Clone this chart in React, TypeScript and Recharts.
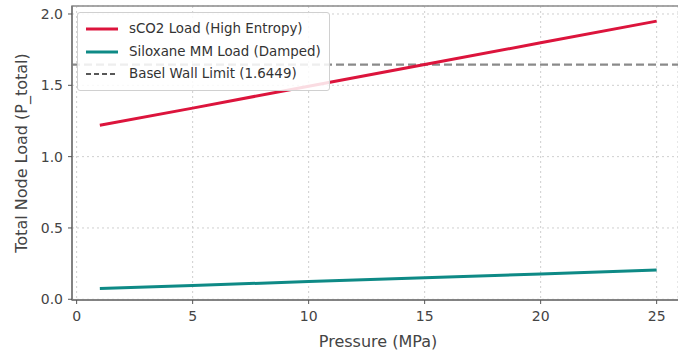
import React from "react";
import {
  LineChart,
  Line,
  XAxis,
  YAxis,
  CartesianGrid,
  ReferenceLine,
  ReferenceArea,
  Label,
} from "recharts";

const pressures = [1, 5, 10, 15, 20, 25];
const sco2Load = [1.22, 1.34, 1.494, 1.646, 1.798, 1.95];
const siloxaneLoad = [0.075, 0.097, 0.124, 0.151, 0.178, 0.205];
const baselLimit = 1.6449;
const xTicks = [0, 5, 10, 15, 20, 25];
const yTicks = [0, 0.5, 1.0, 1.5, 2.0];
const seriesNames = [
  "sCO2 Load (High Entropy)",
  "Siloxane MM Load (Damped)",
  "Basel Wall Limit (1.6449)",
];

const data = pressures.map((p, i) => ({
  p,
  sco2: sco2Load[i],
  silox: siloxaneLoad[i],
}));

const FONT = "'DejaVu Sans', sans-serif";
const RED = "#DC143C";
const TEAL = "#0E8A86";
// visible x-range (the original figure is cropped on the right)
const X_DOMAIN: [number, number] = [-0.2, 25.92];
const X_FRAME_MAX = 26.2;
const Y_DOMAIN: [number, number] = [-0.005, 2.056];

const LegendBox = () => (
  <div
    style={{
      position: "absolute",
      left: 77,
      top: 12,
      boxSizing: "border-box",
      background: "rgba(255,255,255,0.85)",
      border: "1px solid #d0d0d0",
      borderRadius: 3,
      padding: "5px 4px 4px 7px",
      fontFamily: FONT,
      fontSize: 13.4,
      color: "#333",
      lineHeight: "22.5px",
      width: 253,
      whiteSpace: "nowrap",
    }}
  >
    {[
      { c: RED, d: undefined, w: 3, name: seriesNames[0] },
      { c: TEAL, d: undefined, w: 3, name: seriesNames[1] },
      { c: "#222", d: "5 3", w: 1.5, name: seriesNames[2] },
    ].map((it, i) => (
      <div key={i} style={{ display: "flex", alignItems: "center" }}>
        <svg width={34} height={10} style={{ marginRight: 10 }}>
          <line
            x1={1}
            y1={5}
            x2={33}
            y2={5}
            stroke={it.c}
            strokeWidth={it.w}
            strokeDasharray={it.d}
          />
        </svg>
        <span>{it.name}</span>
      </div>
    ))}
  </div>
);

export default function App() {
  return (
    <div
      style={{
        position: "absolute",
        left: 0,
        top: 0,
        width: 678,
        height: 354,
        overflow: "hidden",
        background: "#fff",
      }}
    >
      <LineChart
        width={678}
        height={354}
        data={data}
        margin={{ top: 6, right: 0, left: 0, bottom: 0 }}
        style={{ fontFamily: FONT }}
      >
        <CartesianGrid
          stroke="#cfcfcf"
          strokeDasharray="2 3"
          vertical
          horizontal
        />
        <ReferenceArea
          x1={X_DOMAIN[0]}
          x2={X_FRAME_MAX}
          y1={Y_DOMAIN[0]}
          y2={Y_DOMAIN[1]}
          fill="none"
          fillOpacity={0}
          stroke="#8c8c8c"
          strokeWidth={1.5}
          ifOverflow="visible"
        />
        <XAxis
          dataKey="p"
          type="number"
          domain={X_DOMAIN}
          ticks={xTicks}
          allowDataOverflow
          height={54}
          tickSize={4}
          tickMargin={7}
          stroke="#555"
          tick={{ fill: "#444", fontSize: 14 }}
          axisLine={{ stroke: "#777", strokeWidth: 1.5 }}
        >
          <Label
            value="Pressure (MPa)"
            position="insideBottom"
            offset={7}
            dx={3}
            style={{ fill: "#444", fontSize: 16 }}
          />
        </XAxis>
        <YAxis
          type="number"
          domain={Y_DOMAIN}
          ticks={yTicks}
          allowDataOverflow
          width={72}
          tickSize={4}
          tickMargin={5}
          stroke="#555"
          tickFormatter={(v: number) => v.toFixed(1)}
          tick={{ fill: "#444", fontSize: 14 }}
          axisLine={{ stroke: "#777", strokeWidth: 1.5 }}
        >
          <Label
            value="Total Node Load (P_total)"
            angle={-90}
            position="insideLeft"
            offset={21}
            style={{ fill: "#444", fontSize: 16, textAnchor: "middle" }}
          />
        </YAxis>
        <ReferenceLine
          y={baselLimit}
          stroke="#8a8a8a"
          strokeWidth={2.2}
          strokeDasharray="8 4"
        />
        <Line
          type="linear"
          dataKey="sco2"
          stroke={RED}
          strokeWidth={3}
          dot={false}
          isAnimationActive={false}
        />
        <Line
          type="linear"
          dataKey="silox"
          stroke={TEAL}
          strokeWidth={3}
          dot={false}
          isAnimationActive={false}
        />
      </LineChart>
      <LegendBox />
    </div>
  );
}
